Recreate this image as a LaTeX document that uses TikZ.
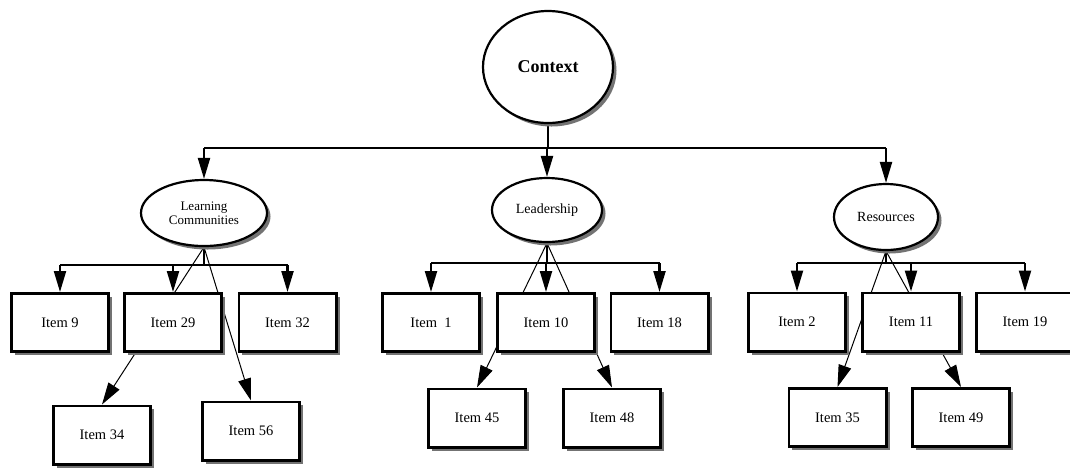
\documentclass[tikz,border=0pt]{standalone}
\usepackage{fontspec}
\setmainfont{Liberation Serif}
\usetikzlibrary{arrows.meta,shadows,shapes.geometric}
\pgfdeclarelayer{paper}
\pgfdeclarelayer{edges}
\pgfsetlayers{paper,edges,main}

\begin{document}
\begin{tikzpicture}[x=1pt,y=-1pt,
  shade3/.style={drop shadow={shadow xshift=3.5pt,shadow yshift=-3.5pt,fill=black!55,opacity=1}},
  itembox/.style={draw,line width=2.6pt,fill=white,minimum width=97.4pt,minimum height=58.4pt,
    inner sep=0pt,font=\fontsize{14.5}{16}\selectfont,shade3},
  topic/.style={draw,ellipse,line width=2.2pt,fill=white,inner sep=0pt,shade3,align=center},
  bus/.style={line width=2.6pt},
  stem/.style={line width=1.4pt},
  down/.style={line width=2.2pt,-{Triangle[length=21pt,width=12pt]}},
  slant/.style={line width=1pt,-{Triangle[length=22pt,width=13pt]}},
]
\begin{pgfonlayer}{paper}
  \fill[white] (0,0) rectangle (1070,467);
\end{pgfonlayer}
\useasboundingbox (0,0) rectangle (1070,467);

% top level and the three topics
\node[topic,minimum width=130pt,minimum height=112pt,
      font=\bfseries\fontsize{18}{20}\selectfont] (ctx) at (548,67) {Context};
\node[topic,minimum width=126pt,minimum height=66pt,
      font=\fontsize{13}{14}\selectfont] (lc) at (204,213) {Learning\\Communities};
\node[topic,minimum width=110pt,minimum height=64pt,
      font=\fontsize{14}{16}\selectfont] (lead) at (547,210) {Leadership};
\node[topic,minimum width=104pt,minimum height=66pt,
      font=\fontsize{14}{16}\selectfont] (res) at (886,217) {Resources};

% items under Learning Communities
\node[itembox] (i9)  at (60,322.5)   {Item 9};
\node[itembox] (i29) at (173,322.5)  {Item 29};
\node[itembox] (i32) at (287.5,322.5){Item 32};
\node[itembox] (i34) at (102,435)    {Item 34};
\node[itembox] (i56) at (251,431)    {Item 56};

% items under Leadership
\node[itembox] (i1)  at (431,322.5)  {Item\enspace1};
\node[itembox] (i10) at (546,322.5)  {Item 10};
\node[itembox] (i18) at (659.5,322.5){Item 18};
\node[itembox] (i45) at (477,418)    {Item 45};
\node[itembox] (i48) at (612,418)    {Item 48};

% items under Resources
\node[itembox] (i2)  at (797,322)    {Item 2};
\node[itembox] (i11) at (911,322)    {Item 11};
\node[itembox] (i19) at (1025,322)   {Item 19};
\node[itembox] (i35) at (837.5,417.5){Item 35};
\node[itembox] (i49) at (961,417.5)  {Item 49};

% bus levels
\coordinate (b0) at (0,148);
\coordinate (b1) at (0,265);
\coordinate (b2) at (0,263);

\begin{pgfonlayer}{edges}
  % Context to topics
  \draw[bus] (ctx.south) -- (ctx.south |- b0);
  \draw[bus] (lc.north |- b0) -- (res.north |- b0);
  \draw[down] (lc.north |- b0) -- (lc.north);
  \draw[down] (lead.north |- b0) -- (lead.north);
  \draw[down] (res.north |- b0) -- (res.north);

  % Learning Communities
  \draw[stem] (lc.south) -- (lc.south |- b1);
  \draw[bus] (i9.north |- b1) -- (i32.north |- b1);
  \draw[down] (i9.north |- b1) -- (i9.north);
  \draw[down] (i29.north |- b1) -- (i29.north);
  \draw[down] (i32.north |- b1) -- (i32.north);
  \draw[slant] (lc.south) -- (i34.north);
  \draw[slant] (lc.south) -- (i56.north);

  % Leadership
  \draw[stem] (lead.south) -- (lead.south |- b2);
  \draw[bus] (i1.north |- b2) -- (i18.north |- b2);
  \draw[down] (i1.north |- b2) -- (i1.north);
  \draw[down] (i10.north |- b2) -- (i10.north);
  \draw[down] (i18.north |- b2) -- (i18.north);
  \draw[slant] (lead.south) -- (i45.north);
  \draw[slant] (lead.south) -- (i48.north);

  % Resources
  \draw[stem] (res.south) -- (res.south |- b2);
  \draw[bus] (i2.north |- b2) -- (i19.north |- b2);
  \draw[down] (i2.north |- b2) -- (i2.north);
  \draw[down] (i11.north |- b2) -- (i11.north);
  \draw[down] (i19.north |- b2) -- (i19.north);
  \draw[slant] (res.south) -- (i35.north);
  \draw[slant] (res.south) -- (i49.north);
\end{pgfonlayer}
\end{tikzpicture}
\end{document}
